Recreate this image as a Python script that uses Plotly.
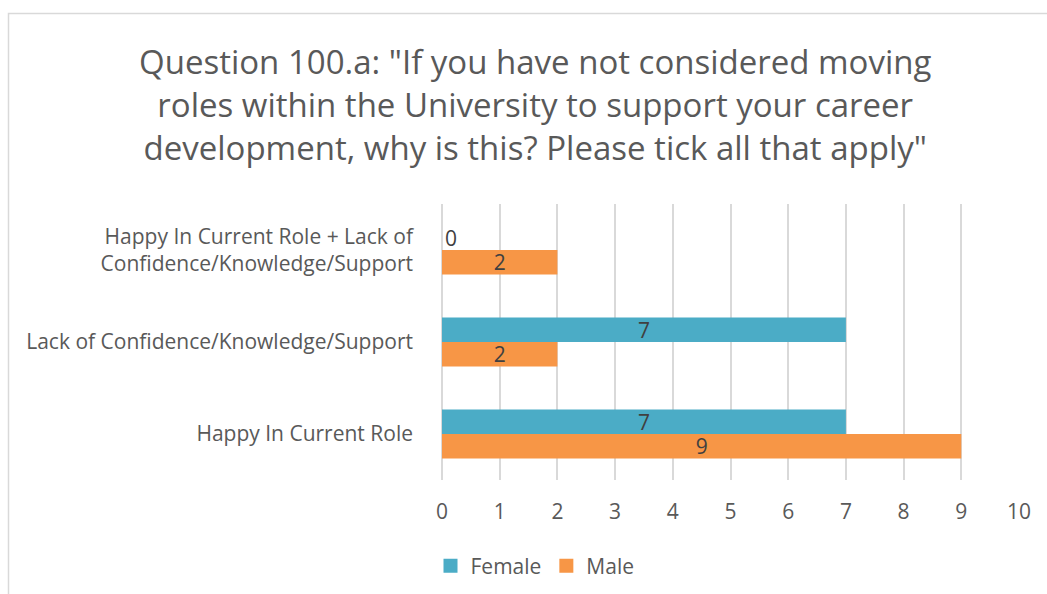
import plotly.graph_objects as go

# Survey responses by reason (bottom to top on the chart)
categories = [
    "Happy In Current Role",
    "Lack of Confidence/Knowledge/Support",
    "Happy In Current Role + Lack of<br>Confidence/Knowledge/Support",
]
female = [7, 7, 0]
male = [9, 2, 2]
x_ticks = list(range(0, 11))

FONT = "Open Sans"
TEXT_GREY = "#595959"
LABEL_GREY = "#404040"
FEMALE_COLOR = "#4BACC6"
MALE_COLOR = "#F79646"
FS = 21


def label_positions(values):
    return ["outside" if v == 0 else "inside" for v in values]


fig = go.Figure()
for name, vals, color in [("Male", male, MALE_COLOR), ("Female", female, FEMALE_COLOR)]:
    fig.add_trace(go.Bar(
        name=name, y=categories, x=vals, orientation="h",
        marker=dict(color=color, line=dict(width=0)),
        text=[str(v) for v in vals], textposition=label_positions(vals),
        insidetextanchor="middle", textangle=0, constraintext="none",
        textfont=dict(family=FONT, size=FS, color=LABEL_GREY),
        cliponaxis=False, showlegend=False,
    ))

# Legend entries drawn as square markers
for name, color in [("Female", FEMALE_COLOR), ("Male", MALE_COLOR)]:
    fig.add_trace(go.Scatter(
        name=name, x=[None], y=[None], mode="markers",
        marker=dict(symbol="square", size=14, color=color),
        showlegend=True,
    ))

W, H = 1047, 594
L, R, T, B = 442, 28, 204, 114
pw, ph = W - L - R, H - T - B


def px_to_paper_x(px):
    return (px - L) / pw


def px_to_paper_y(py):
    return (H - B - py) / ph


fig.add_annotation(
    text='Question 100.a: "If you have not considered moving<br>'
         'roles within the University to support your career<br>'
         'development, why is this? Please tick all that apply"',
    xref="paper", yref="paper",
    x=px_to_paper_x(535), y=px_to_paper_y(105),
    xanchor="center", yanchor="middle", showarrow=False,
    font=dict(family=FONT, size=33, color=TEXT_GREY),
)

fig.update_layout(
    width=W, height=H,
    margin=dict(l=L, r=R, t=T, b=B, pad=0, autoexpand=False),
    paper_bgcolor="white", plot_bgcolor="white",
    barmode="group", bargap=0.47, bargroupgap=0,
    font=dict(family=FONT, color=TEXT_GREY, size=FS),
    xaxis=dict(
        range=[0, 10], tickvals=x_ticks, ticktext=[str(v) for v in x_ticks],
        showgrid=True, gridcolor="#D9D9D9", gridwidth=1.5,
        zeroline=True, zerolinecolor="#D9D9D9", zerolinewidth=1.5,
        showline=False, ticks="", ticklabelstandoff=17,
        tickfont=dict(family=FONT, size=FS, color=TEXT_GREY),
        fixedrange=True,
    ),
    yaxis=dict(
        categoryorder="array", categoryarray=categories,
        showgrid=False, showline=False, ticks="", ticklabelstandoff=28,
        tickfont=dict(family=FONT, size=FS, color=TEXT_GREY),
        fixedrange=True,
    ),
    legend=dict(
        orientation="h",
        x=px_to_paper_x(535), xanchor="center",
        y=px_to_paper_y(566), yanchor="middle",
        font=dict(family=FONT, size=FS, color=TEXT_GREY),
        itemwidth=30, bgcolor="rgba(0,0,0,0)",
    ),
    showlegend=True,
    shapes=[dict(
        type="rect", xref="paper", yref="paper", layer="below",
        x0=px_to_paper_x(8.5), x1=px_to_paper_x(1060),
        y0=px_to_paper_y(610), y1=px_to_paper_y(13.5),
        line=dict(color="#D9D9D9", width=1.5), fillcolor="rgba(0,0,0,0)",
    )],
)

fig.write_html("out.html")
